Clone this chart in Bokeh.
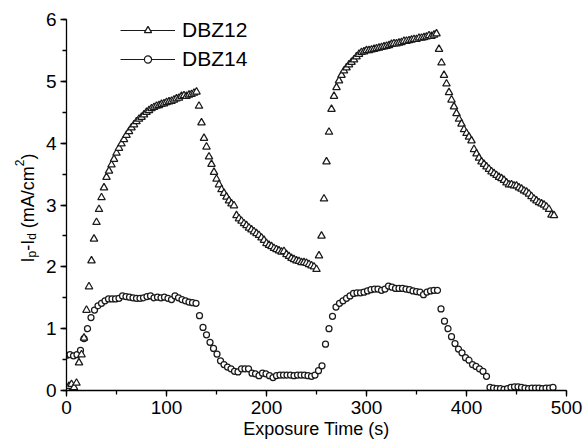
import math
from bokeh.plotting import figure
from bokeh.layouts import row
from bokeh.models import Label, Legend, LegendItem, SingleIntervalTicker, Range1d
from bokeh.embed import file_html
from bokeh.resources import INLINE

# ---------------- data ----------------
dbz12_time = [
    0.0, 2.5, 5.0, 7.5, 10.0, 12.5, 15.0, 17.5, 20.0, 22.5,
    25.0, 27.5, 30.0, 32.5, 35.0, 37.5, 40.0, 42.5, 45.0, 47.5,
    50.0, 52.5, 55.0, 57.5, 60.0, 62.5, 65.0, 67.5, 70.0, 72.5,
    75.0, 77.5, 80.0, 82.5, 85.0, 87.5, 90.0, 92.5, 95.0, 97.5,
    100.0, 102.5, 105.0, 107.5, 110.0, 112.5, 115.0, 117.5, 120.0, 122.5,
    125.0, 127.5, 130.0, 132.5, 135.0, 137.5, 140.0, 142.5, 145.0, 147.5,
    150.0, 152.5, 155.0, 157.5, 160.0, 162.5, 165.0, 167.5, 170.0, 172.5,
    175.0, 177.5, 180.0, 182.5, 185.0, 187.5, 190.0, 192.5, 195.0, 197.5,
    200.0, 202.5, 205.0, 207.5, 210.0, 212.5, 215.0, 217.5, 220.0, 222.5,
    225.0, 227.5, 230.0, 232.5, 235.0, 237.5, 240.0, 242.5, 245.0, 247.5,
    250.0, 252.5, 255.0, 257.5, 260.0, 262.5, 265.0, 267.5, 270.0, 272.5,
    275.0, 277.5, 280.0, 282.5, 285.0, 287.5, 290.0, 292.5, 295.0, 297.5,
    300.0, 302.5, 305.0, 307.5, 310.0, 312.5, 315.0, 317.5, 320.0, 322.5,
    325.0, 327.5, 330.0, 332.5, 335.0, 337.5, 340.0, 342.5, 345.0, 347.5,
    350.0, 352.5, 355.0, 357.5, 360.0, 362.5, 365.0, 367.5, 370.0, 372.5,
    375.0, 377.5, 380.0, 382.5, 385.0, 387.5, 390.0, 392.5, 395.0, 397.5,
    400.0, 402.5, 405.0, 407.5, 410.0, 412.5, 415.0, 417.5, 420.0, 422.5,
    425.0, 427.5, 430.0, 432.5, 435.0, 437.5, 440.0, 442.5, 445.0, 447.5,
    450.0, 452.5, 455.0, 457.5, 460.0, 462.5, 465.0, 467.5, 470.0, 472.5,
    475.0, 477.5, 480.0, 482.5, 485.0, 487.5,
]
dbz12_current = [
    0.03, 0.07, 0.10, 0.05, 0.12, 0.45, 0.58, 0.85, 1.30, 1.68,
    2.10, 2.45, 2.72, 2.93, 3.12, 3.28, 3.45, 3.55, 3.65, 3.74,
    3.84, 3.92, 3.99, 4.06, 4.13, 4.19, 4.25, 4.30, 4.35, 4.39,
    4.42, 4.46, 4.50, 4.53, 4.56, 4.58, 4.60, 4.61, 4.63, 4.64,
    4.66, 4.67, 4.68, 4.70, 4.72, 4.73, 4.76, 4.77, 4.76, 4.78,
    4.79, 4.81, 4.83, 4.60, 4.33, 4.08, 3.94, 3.78, 3.66, 3.53,
    3.42, 3.33, 3.25, 3.19, 3.13, 3.07, 3.02, 2.99, 2.83, 2.78,
    2.74, 2.70, 2.67, 2.63, 2.60, 2.57, 2.54, 2.51, 2.47, 2.43,
    2.38, 2.35, 2.33, 2.30, 2.28, 2.26, 2.24, 2.25, 2.20, 2.17,
    2.14, 2.12, 2.10, 2.09, 2.07, 2.07, 2.06, 2.04, 2.02, 2.00,
    1.96, 2.18, 2.50, 3.10, 3.70, 4.18, 4.55, 4.76, 4.90, 5.01,
    5.10, 5.17, 5.22, 5.27, 5.31, 5.35, 5.40, 5.44, 5.47, 5.48,
    5.50, 5.50, 5.51, 5.52, 5.53, 5.54, 5.55, 5.56, 5.57, 5.58,
    5.60, 5.61, 5.61, 5.62, 5.63, 5.65, 5.65, 5.66, 5.67, 5.68,
    5.68, 5.70, 5.70, 5.71, 5.72, 5.74, 5.73, 5.75, 5.77, 5.52,
    5.30, 5.10, 4.96, 4.82, 4.70, 4.59, 4.48, 4.39, 4.31, 4.22,
    4.16, 4.10, 4.04, 3.90, 3.83, 3.76, 3.70, 3.66, 3.62, 3.58,
    3.54, 3.51, 3.48, 3.45, 3.43, 3.40, 3.36, 3.33, 3.33, 3.31,
    3.31, 3.28, 3.26, 3.23, 3.21, 3.18, 3.14, 3.10, 3.07, 3.04,
    3.02, 3.00, 2.97, 2.93, 2.84, 2.83,
]

dbz14_time = [
    0.0, 3.5, 7.0, 10.5, 14.0, 17.5, 21.0, 24.5, 28.0, 31.5,
    35.0, 38.5, 42.0, 45.5, 49.0, 52.5, 56.0, 59.5, 63.0, 66.5,
    70.0, 73.5, 77.0, 80.5, 84.0, 87.5, 91.0, 94.5, 98.0, 101.5,
    105.0, 108.5, 112.0, 115.5, 119.0, 122.5, 126.0, 129.5, 133.0, 136.5,
    140.0, 143.5, 147.0, 150.5, 154.0, 157.5, 161.0, 164.5, 168.0, 171.5,
    175.0, 178.5, 182.0, 185.5, 189.0, 192.5, 196.0, 199.5, 203.0, 206.5,
    210.0, 213.5, 217.0, 220.5, 224.0, 227.5, 231.0, 234.5, 238.0, 241.5,
    245.0, 248.5, 252.0, 255.5, 259.0, 262.5, 266.0, 269.5, 273.0, 276.5,
    280.0, 283.5, 287.0, 290.5, 294.0, 297.5, 301.0, 304.5, 308.0, 311.5,
    315.0, 318.5, 322.0, 325.5, 329.0, 332.5, 336.0, 339.5, 343.0, 346.5,
    350.0, 353.5, 357.0, 360.5, 364.0, 367.5, 371.0, 374.5, 378.0, 381.5,
    385.0, 388.5, 392.0, 395.5, 399.0, 402.5, 406.0, 409.5, 413.0, 416.5,
    420.0, 423.5, 427.0, 430.5, 434.0, 437.5, 441.0, 444.5, 448.0, 451.5,
    455.0, 458.5, 462.0, 465.5, 469.0, 472.5, 476.0, 479.5, 483.0, 486.5,
]
dbz14_current = [
    0.57, 0.58, 0.56, 0.58, 0.65, 0.84, 1.00, 1.18, 1.30, 1.37,
    1.41, 1.45, 1.48, 1.48, 1.48, 1.49, 1.53, 1.52, 1.51, 1.50,
    1.49, 1.49, 1.50, 1.52, 1.53, 1.50, 1.51, 1.50, 1.51, 1.49,
    1.47, 1.53, 1.50, 1.47, 1.45, 1.43, 1.42, 1.41, 1.21, 1.02,
    0.90, 0.78, 0.68, 0.59, 0.48, 0.42, 0.38, 0.35, 0.31, 0.30,
    0.35, 0.35, 0.35, 0.28, 0.27, 0.24, 0.28, 0.27, 0.24, 0.21,
    0.24, 0.25, 0.25, 0.25, 0.25, 0.24, 0.25, 0.25, 0.25, 0.24,
    0.23, 0.25, 0.32, 0.40, 0.75, 1.00, 1.20, 1.35, 1.41, 1.45,
    1.49, 1.53, 1.57, 1.58, 1.58, 1.59, 1.61, 1.63, 1.64, 1.64,
    1.62, 1.64, 1.69, 1.67, 1.65, 1.65, 1.65, 1.64, 1.63, 1.61,
    1.60, 1.59, 1.55, 1.59, 1.61, 1.62, 1.62, 1.32, 1.12, 1.00,
    0.87, 0.76, 0.67, 0.61, 0.53, 0.49, 0.42, 0.39, 0.35, 0.31,
    0.23, 0.05, 0.04, 0.03, 0.03, 0.02, 0.03, 0.05, 0.06, 0.06,
    0.05, 0.04, 0.03, 0.04, 0.04, 0.04, 0.03, 0.04, 0.04, 0.05,
]

series_names = ["DBZ12", "DBZ14"]
x_label = "Exposure Time (s)"

FONT = "Liberation Sans"
TOTAL_W, TOTAL_H = 585, 443
LABEL_W = 42
BORDER_TOP, BORDER_BOTTOM = 19, 53

# ---------------- main figure ----------------
p = figure(width=TOTAL_W - LABEL_W, height=TOTAL_H, output_backend="svg",
           toolbar_location=None, title=None,
           x_range=Range1d(0, 500), y_range=Range1d(0, 6),
           min_border_left=66 - LABEL_W, min_border_right=19,
           min_border_top=BORDER_TOP, min_border_bottom=BORDER_BOTTOM)
p.background_fill_color = "white"
p.border_fill_color = "white"
p.outline_line_color = None
p.xgrid.visible = False
p.ygrid.visible = False

p.xaxis.ticker = SingleIntervalTicker(interval=100, num_minor_ticks=2)
p.yaxis.ticker = SingleIntervalTicker(interval=1, num_minor_ticks=2)
for ax in (p.xaxis[0], p.yaxis[0]):
    ax.axis_line_color = "black"
    ax.axis_line_width = 1.3
    ax.major_tick_line_color = "black"
    ax.major_tick_line_width = 1.3
    ax.minor_tick_line_color = "black"
    ax.minor_tick_line_width = 1.3
    ax.major_tick_in = 0
    ax.major_tick_out = 6
    ax.minor_tick_in = 0
    ax.minor_tick_out = 4
    ax.major_label_text_font = FONT
    ax.major_label_text_font_size = "19px"
    ax.major_label_text_color = "black"
p.xaxis.major_label_standoff = 4
p.yaxis.major_label_standoff = 4
p.xaxis.axis_label = x_label
p.xaxis.axis_label_text_font = FONT
p.xaxis.axis_label_text_font_size = "18px"
p.xaxis.axis_label_text_font_style = "normal"
p.xaxis.axis_label_text_color = "black"
p.xaxis.axis_label_standoff = 2

# ---------------- data glyphs ----------------
MARK = "#1a1a1a"
l14 = p.line(dbz14_time, dbz14_current, line_color=MARK, line_width=1, visible=False)
s14 = p.scatter(dbz14_time, dbz14_current, marker="circle", size=6,
                fill_color="white", line_color=MARK, line_width=1.25)
l12 = p.line(dbz12_time, dbz12_current, line_color=MARK, line_width=1, visible=False)
s12 = p.scatter(dbz12_time, dbz12_current, marker="triangle", size=7.5,
                fill_color="white", line_color=MARK, line_width=1.25)

legend = Legend(items=[LegendItem(label=series_names[0], renderers=[l12, s12]),
                       LegendItem(label=series_names[1], renderers=[l14, s14])],
                location=(54, 319), label_text_font=FONT, label_text_font_size="21px",
                label_text_color="black", glyph_width=55, glyph_height=18,
                label_height=18, label_standoff=7, spacing=5, padding=0, margin=0,
                border_line_color=None, background_fill_alpha=0,
                inactive_fill_alpha=0)
p.add_layout(legend)

# ---------------- y-axis title (rich text with sub/superscripts) ----------------
lab = figure(width=LABEL_W, height=TOTAL_H, output_backend="svg",
             toolbar_location=None, title=None, x_axis_location=None,
             y_axis_location=None, min_border_left=0, min_border_right=0,
             min_border_top=BORDER_TOP, min_border_bottom=BORDER_BOTTOM,
             x_range=Range1d(0, 1), y_range=Range1d(0, 1))
lab.outline_line_color = None
lab.background_fill_color = "white"
lab.border_fill_color = "white"
lab.grid.visible = False

F, S = 18, 12
adv = {"I": 278, "p": 556, "-": 333, "d": 556, " ": 278, "(": 333, "m": 833,
       "A": 667, "/": 278, "c": 500, "2": 556, ")": 333}
pieces = [("I", F, 0), ("p", S, 4), ("-I", F, 0), ("d", S, 4), (" ", F, None),
          ("(mA/cm", F, 0), ("2", S, -8), (")", F, 0)]
ypos = 128.0
for txt, size, dx in pieces:
    if dx is not None:
        lab.add_layout(Label(x=27 + dx, y=ypos, x_units="screen", y_units="screen",
                             text=txt, angle=math.pi / 2, text_align="left",
                             text_baseline="alphabetic", text_font=FONT,
                             text_font_size=f"{size}px", text_color="black"))
    ypos += sum(adv[c] for c in txt) * size / 1000.0

layout = row(lab, p, spacing=0)
open("out.html", "w").write(file_html(layout, INLINE))
